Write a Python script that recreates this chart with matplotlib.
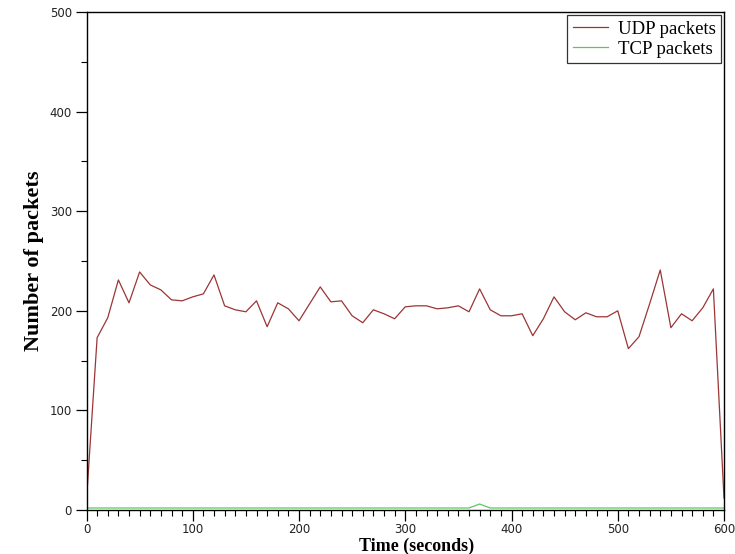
import numpy as np
import matplotlib
matplotlib.use('Agg')
import matplotlib.pyplot as plt
from matplotlib.ticker import MultipleLocator

# Data (one sample every 10 s)
time_s = list(range(0, 601, 10))
udp_packets = [10, 173, 193, 231, 208, 239, 226, 221, 211, 210,
               214, 217, 236, 205, 201, 199, 210, 184, 208, 202,
               190, 207, 224, 209, 210, 195, 188, 201, 197, 192,
               204, 205, 205, 202, 203, 205, 199, 222, 201, 195,
               195, 197, 175, 192, 214, 199, 191, 198, 194, 194,
               200, 162, 174, 207, 241, 183, 197, 190, 203, 222,
               12]
tcp_packets = [2] * 61
tcp_packets[37] = 6

UDP_COLOR = '#9c3535'
TCP_COLOR = '#5cc85c'

fig = plt.figure(figsize=(7.35, 5.54), dpi=100)
ax = fig.add_axes([86.5 / 735, 44 / 554, (724 - 86.5) / 735, (510 - 12) / 554])

ax.plot(time_s, udp_packets, color=UDP_COLOR, lw=0.9, label='UDP packets')
ax.plot(time_s, tcp_packets, color=TCP_COLOR, lw=0.9, label='TCP packets')

ax.set_xlim(0, 600)
ax.set_ylim(0, 500)
ax.xaxis.set_major_locator(MultipleLocator(100))
ax.xaxis.set_minor_locator(MultipleLocator(10))
ax.yaxis.set_major_locator(MultipleLocator(100))
ax.yaxis.set_minor_locator(MultipleLocator(50))
ax.tick_params(which='major', length=8, width=0.9, labelsize=8.5,
               colors='black', labelcolor='#222222', pad=2.5)
ax.tick_params(axis='x', which='major', pad=1.5)
ax.tick_params(which='minor', length=4, width=0.8)
for sp in ax.spines.values():
    sp.set_linewidth(1.0)

serif = ['Liberation Serif', 'DejaVu Serif']
ax.set_xlabel('Time (seconds)', family=serif, fontweight='bold', fontsize=13)
ax.xaxis.set_label_coords(0.518, -0.055)
ax.set_ylabel('Number of packets', family=serif, fontweight='bold', fontsize=16)
ax.yaxis.set_label_coords(-0.067, 0.5)

leg = ax.legend(loc='upper right', prop={'family': serif, 'size': 13.5},
                frameon=True, fancybox=False, borderaxespad=0.15,
                handlelength=1.9, handletextpad=0.5, borderpad=0.3,
                labelspacing=0.15)
leg.get_frame().set_edgecolor('black')
leg.get_frame().set_linewidth(0.9)

fig.savefig('out.png', dpi=100)
